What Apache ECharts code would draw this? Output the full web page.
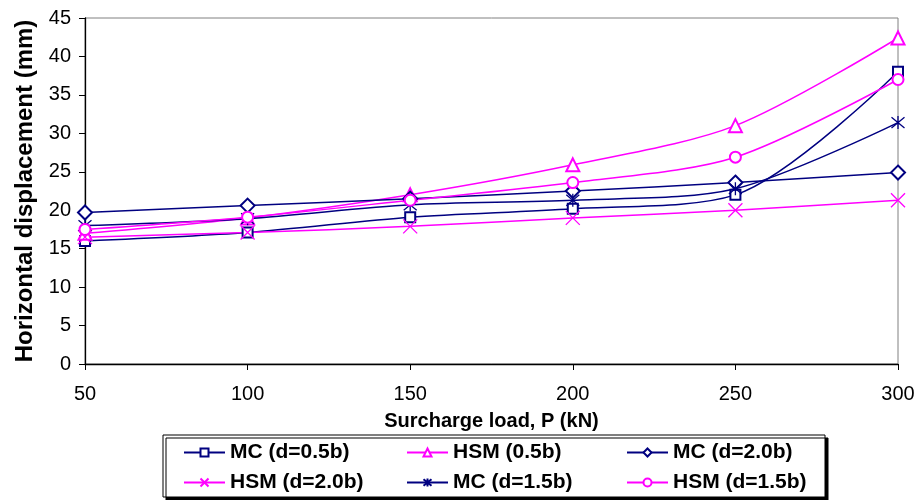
<!DOCTYPE html>
<html>
<head>
<meta charset="utf-8">
<script src="https://cdn.jsdelivr.net/npm/echarts@6/dist/echarts.min.js"></script>
<style>
  html, body { margin: 0; padding: 0; background: #fff; }
  #chart { width: 919px; height: 500px; }
</style>
</head>
<body>
<div id="chart"></div>
<script>
// Surcharge load (kN) on the x axis
const loads = [50, 100, 150, 200, 250, 300];

// Horizontal displacement (mm) for each model / footing distance
const mcD05  = [16.0, 17.1, 19.1, 20.2, 22.0, 38.0];
const hsm05  = [17.0, 19.0, 22.0, 25.9, 31.0, 42.4];
const mcD20  = [19.7, 20.6, 21.5, 22.5, 23.6, 24.9];
const hsmD20 = [16.5, 17.1, 17.9, 19.0, 20.0, 21.3];
const mcD15  = [18.0, 18.9, 20.7, 21.3, 22.8, 31.4];
const hsmD15 = [17.5, 19.1, 21.3, 23.6, 26.9, 37.0];

const seriesNames = [
  'MC (d=0.5b)', 'HSM (0.5b)', 'MC (d=2.0b)',
  'HSM (d=2.0b)', 'MC (d=1.5b)', 'HSM (d=1.5b)'
];

const NAVY = '#000080';
const MAGENTA = '#FF00FF';
const FONT = "'Liberation Sans', Arial, sans-serif";

const pairs = (vals) => loads.map((x, i) => [x, vals[i]]);

function lineSeries(name, vals, color, symbol, size) {
  return {
    name: name,
    type: 'line',
    data: pairs(vals),
    smooth: 0.3,
    symbol: symbol,
    symbolSize: size,
    showAllSymbol: true,
    lineStyle: { color: color, width: 1.5 },
    itemStyle: { color: color, borderColor: color, borderWidth: 1.3 },
    emphasis: { disabled: true }
  };
}

const crossPath = 'path://M0,0L10,10M10,0L0,10';
const starPath = 'path://M0,0L10,10M10,0L0,10M5,-1L5,11';

const legendText = { fontFamily: FONT, fontSize: 21, fontWeight: 'bold', color: '#000' };

function legendColumn(left, items) {
  return {
    orient: 'vertical',
    left: left,
    top: 442,
    padding: 0,
    itemWidth: 41,
    itemHeight: 10,
    itemGap: 9,
    selectedMode: false,
    textStyle: legendText,
    data: items
  };
}

const chart = echarts.init(document.getElementById('chart'), null, { renderer: 'canvas' });

chart.setOption({
  animation: false,
  backgroundColor: '#fff',
  grid: {
    left: 85, right: 21, top: 18, bottom: 136,
    show: true, borderColor: '#808080', borderWidth: 1,
    backgroundColor: 'transparent'
  },
  xAxis: {
    type: 'value',
    min: 50, max: 300, interval: 50,
    name: 'Surcharge load, P (kN)',
    nameLocation: 'middle',
    nameGap: 47,
    nameTextStyle: { fontFamily: FONT, fontSize: 20, fontWeight: 'bold', color: '#000' },
    axisLine: { lineStyle: { color: '#000', width: 1.3 } },
    axisTick: { show: true, length: 6, inside: false, lineStyle: { color: '#000' } },
    axisLabel: { fontFamily: FONT, fontSize: 20, color: '#000', margin: 20 },
    splitLine: { show: false }
  },
  yAxis: {
    type: 'value',
    min: 0, max: 45, interval: 5,
    name: 'Horizontal displacement (mm)',
    nameLocation: 'middle',
    nameGap: 41,
    nameTextStyle: { fontFamily: FONT, fontSize: 24, fontWeight: 'bold', color: '#000' },
    axisLine: { show: true, lineStyle: { color: '#000', width: 1.3 } },
    axisTick: { show: true, length: 6, inside: false, lineStyle: { color: '#000' } },
    axisLabel: { fontFamily: FONT, fontSize: 20, color: '#000', margin: 14 },
    splitLine: { show: false }
  },
  graphic: [{
    type: 'rect',
    z: -1,
    shape: { x: 163, y: 435, width: 662, height: 62 },
    style: {
      fill: '#fff', stroke: '#000', lineWidth: 1,
      shadowColor: '#000', shadowBlur: 0, shadowOffsetX: 3, shadowOffsetY: 3
    }
  }],
  legend: [
    legendColumn(183, [seriesNames[0], seriesNames[3]]),
    legendColumn(406, [seriesNames[1], seriesNames[4]]),
    legendColumn(626, [seriesNames[2], seriesNames[5]])
  ],
  series: [
    lineSeries(seriesNames[0], mcD05, NAVY, 'emptyRect', 10),
    lineSeries(seriesNames[1], hsm05, MAGENTA, 'emptyTriangle', 13),
    lineSeries(seriesNames[2], mcD20, NAVY, 'emptyDiamond', 14),
    lineSeries(seriesNames[3], hsmD20, MAGENTA, crossPath, 14),
    lineSeries(seriesNames[4], mcD15, NAVY, starPath, 13),
    lineSeries(seriesNames[5], hsmD15, MAGENTA, 'emptyCircle', 11)
  ]
});
</script>
</body>
</html>
